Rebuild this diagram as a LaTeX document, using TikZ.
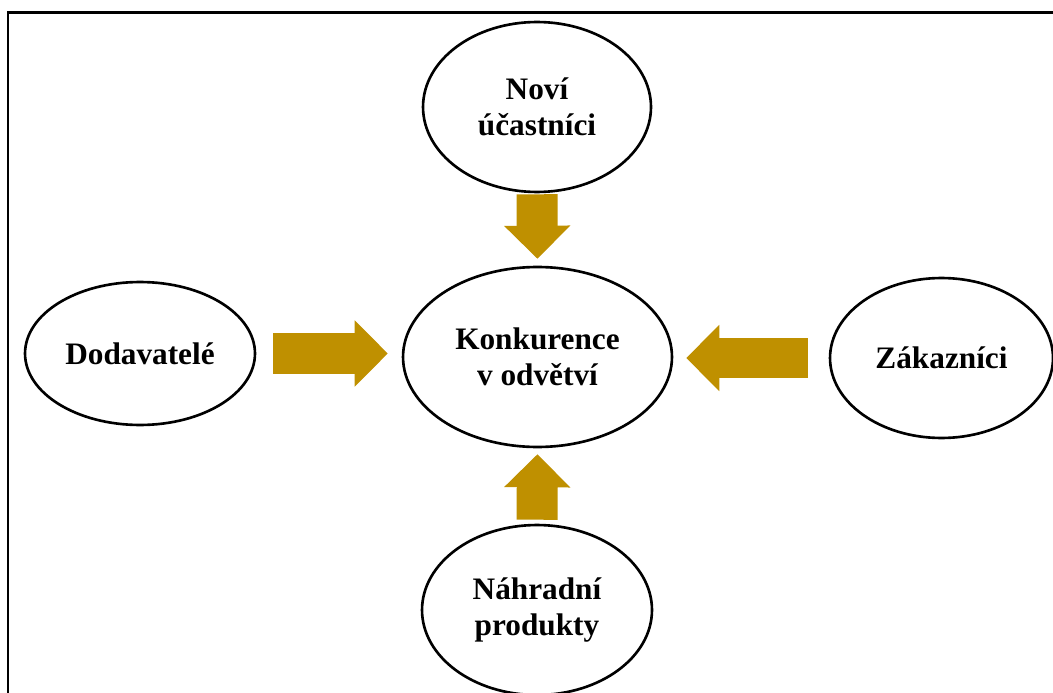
\documentclass[tikz,border=0pt]{standalone}
\usepackage{fontspec}
\setmainfont{Liberation Serif}
\usetikzlibrary{shapes,arrows.meta,positioning}
\definecolor{arrowgold}{RGB}{191,144,0}

\begin{document}
\begin{tikzpicture}[x=0.02cm,y=-0.02cm,
    oval/.style={draw, ellipse, line width=1.5pt, inner sep=0pt, align=center,
        font=\fontsize{17.8}{20.5}\selectfont\bfseries},
    goldarrow/.style={draw=arrowgold, line width=0.82cm,
        -{Triangle[width=1.32cm,length=0.66cm,line width=0.8pt,fill=arrowgold]}}]
    \clip (0,0) rectangle (1053,692);

    % Frame
    \draw [line width=1.2pt] (8,700) -- (8,12.5) -- (1060,12.5);

    % Forces
    \node [oval, minimum width=5.38cm, minimum height=3.6cm] (konk) at (537.5,357) {Konkurence\\v odvětví};
    \node [oval, minimum width=4.56cm, minimum height=3.4cm] (novi) at (537,107) {Noví\\účastníci};
    \node [oval, minimum width=4.6cm, minimum height=2.86cm] (dod) at (140,353.5) {Dodavatelé};
    \node [oval, minimum width=4.46cm, minimum height=3.2cm] (zak) at (941.5,358) {Zákazníci};
    \node [oval, minimum width=4.6cm, minimum height=3.4cm] (nahr) at (537,610) {Náhradní\\produkty};

    % Arrows
    \draw [goldarrow, shorten <=0.02cm, shorten >=0.14cm] (novi.south) -- (konk.north);
    \draw [goldarrow, shorten <=0.08cm, shorten >=0.12cm] (nahr.north) -- (konk.south);
    \draw [goldarrow, shorten <=0.34cm, shorten >=0.28cm] (dod.east) -- (konk.west |- dod.east);
    \draw [goldarrow, shorten <=0.42cm, shorten >=0.26cm] (zak.west) -- (konk.east |- zak.west);
\end{tikzpicture}
\end{document}
